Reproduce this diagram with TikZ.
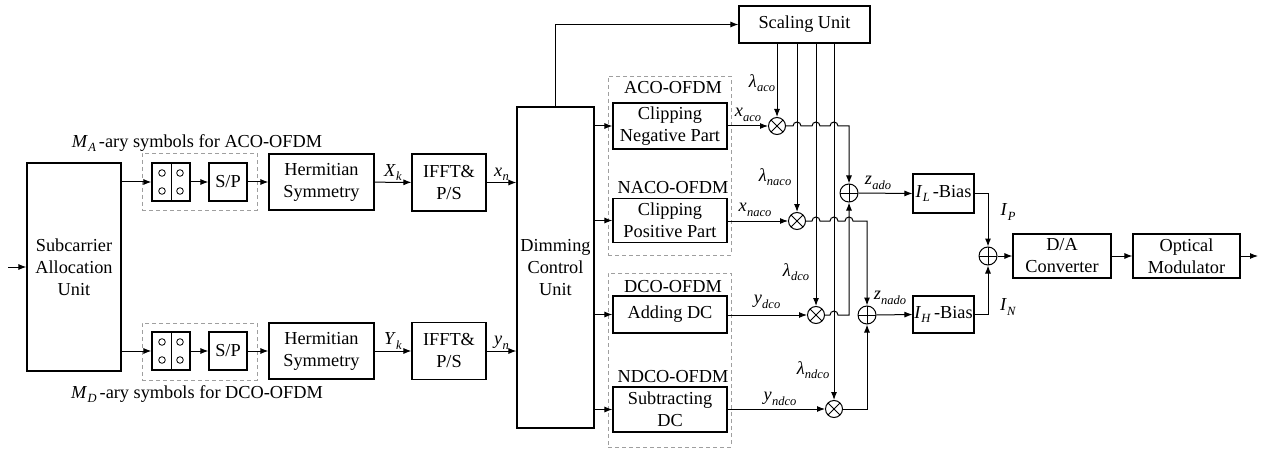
\documentclass[tikz,border=0pt]{standalone}
\usepackage{fontspec}
\setmainfont{Liberation Serif}
\newfontfamily\tnr{Liberation Serif}
\usetikzlibrary{arrows.meta,calc}
\newcommand\sbs[2]{\textit{#1}\kern0.3pt\raisebox{-0.55ex}{\fontsize{12.5}{12.5}\selectfont\textit{#2}}}
\begin{document}
\begin{tikzpicture}[x=1pt,y=-1pt,font=\tnr\fontsize{18.3}{22}\selectfont,line width=1pt,
  blk/.style={draw,line width=1.1pt,align=center,inner sep=0pt},
  dbox/.style={draw=gray!75,dash pattern=on 4pt off 3pt,line width=0.9pt},
  arr/.style={-{Latex[length=8pt,width=6pt]},line width=1pt},
  lbl/.style={inner sep=0pt},
  mul/.style={circle,draw,line width=1pt,minimum size=17pt,inner sep=0pt,
    path picture={\draw[line width=0.9pt] (path picture bounding box.north west)--(path picture bounding box.south east)
      (path picture bounding box.north east)--(path picture bounding box.south west);}},
  add/.style={circle,draw,line width=1pt,minimum size=18pt,inner sep=0pt,
    path picture={\draw[line width=0.9pt] (path picture bounding box.west)--(path picture bounding box.east)
      (path picture bounding box.north)--(path picture bounding box.south);}},
  cons/.style={blk,minimum width=38pt,minimum height=38pt,
    path picture={\draw[line width=1pt] (path picture bounding box.north)--(path picture bounding box.south);
      \foreach \dx in {-9,9}{\foreach \dy in {-9,9}{\draw[line width=0.8pt] ($(path picture bounding box.center)+(\dx,\dy)$) circle (3.3pt);}}}}
]
\useasboundingbox (0,0) rectangle (1265,449);

% dashed group boxes
\node[dbox,minimum width=115pt,minimum height=57pt] (dA) at (199.5,181.5) {};
\node[dbox,minimum width=115pt,minimum height=57pt] (dB) at (199.5,351.5) {};
\node[dbox,minimum width=123pt,minimum height=179pt] (dC) at (669.5,165.5) {};
\node[dbox,minimum width=123pt,minimum height=174pt] (dD) at (669.5,360) {};

% blocks
\node[blk,minimum width=94pt,minimum height=208pt] (sau) at (74,267) {Subcarrier\\Allocation\\Unit};
\node[cons] (cA) at (171,182) {};
\node[blk,minimum width=38pt,minimum height=38pt] (spA) at (228,182) {S/P};
\node[blk,minimum width=105pt,minimum height=56pt] (hA) at (321.5,182) {Hermitian\\Symmetry};
\node[blk,minimum width=74pt,minimum height=57pt] (iA) at (449,182.5) {IFFT\&\\P/S};
\node[cons] (cB) at (171,351) {};
\node[blk,minimum width=38pt,minimum height=38pt] (spB) at (228,351) {S/P};
\node[blk,minimum width=105pt,minimum height=56pt] (hB) at (321.5,351) {Hermitian\\Symmetry};
\node[blk,minimum width=74pt,minimum height=57pt] (iB) at (449,351) {IFFT\&\\P/S};
\node[blk,minimum width=77pt,minimum height=321pt] (dcu) at (555.5,267.5) {Dimming\\Control\\Unit};
\node[blk,minimum width=131pt,minimum height=37pt] (su) at (804.5,24.5) {Scaling Unit};
\node[blk,minimum width=114pt,minimum height=46pt] (cn) at (670,126) {Clipping\\Negative Part};
\node[blk,minimum width=114pt,minimum height=44pt] (cp) at (670,220.5) {Clipping\\Positive Part};
\node[blk,minimum width=114pt,minimum height=37pt] (ad) at (670,314.5) {Adding DC};
\node[blk,minimum width=114pt,minimum height=45pt] (sd) at (670,409.5) {Subtracting\\DC};
\node[blk,minimum width=61pt,minimum height=39pt] (bL) at (943.5,193.5) {\sbs{I}{L}\,-Bias};
\node[blk,minimum width=61pt,minimum height=37pt] (bH) at (943.5,314.5) {\sbs{I}{H}\,-Bias};
\node[blk,minimum width=98pt,minimum height=44pt] (da) at (1062,256) {D/A\\Converter};
\node[blk,minimum width=107pt,minimum height=44pt] (om) at (1186.5,256) {Optical\\Modulator};

% multipliers and adders
\node[mul] (m1) at (777,126) {};
\node[mul] (m2) at (797,221) {};
\node[mul] (m3) at (816,315) {};
\node[mul] (m4) at (834,409) {};
\node[add] (a1) at (849,193) {};
\node[add] (a2) at (867,315) {};
\node[add] (a3) at (988,256) {};

% coordinates
\coordinate (in) at (8,267);
\coordinate (out) at (1258,256);
\coordinate (s1) at (777,43);
\coordinate (s2) at (797,43);
\coordinate (s3) at (816,43);
\coordinate (s4) at (834,43);

% group labels
\node[lbl] (gA) at (673,88) {ACO-OFDM};
\node[lbl] (gB) at (673,188) {NACO-OFDM};
\node[lbl] (gC) at (673,287) {DCO-OFDM};
\node[lbl] (gD) at (673,377) {NDCO-OFDM};
\node[lbl] (tA) at (197,143) {\sbs{M}{A}\,-ary symbols for ACO-OFDM};
\node[lbl] (tB) at (197,394) {\sbs{M}{D}\,-ary symbols for DCO-OFDM};

% left chain
\draw[arr] (in) -- (sau.west);
\draw[arr] (sau.east |- cA) -- (cA.west);
\draw[arr] (cA) -- (spA);
\draw[arr] (spA) -- (hA);
\draw[arr] (hA) -- node[above=1pt,lbl] {\sbs{X}{k}} (iA);
\draw[arr] (iA) -- node[above=1pt,lbl] {\sbs{x}{n}} (iA -| dcu.west);
\draw[arr] (sau.east |- cB) -- (cB.west);
\draw[arr] (cB) -- (spB);
\draw[arr] (spB) -- (hB);
\draw[arr] (hB) -- node[above=1pt,lbl] {\sbs{Y}{k}} (iB);
\draw[arr] (iB) -- node[above=1pt,lbl] {\sbs{y}{n}} (iB -| dcu.west);

% dimming control outputs
\draw[arr] (dcu.north) |- (su.west);
\draw[arr] (dcu.east |- cn) -- (cn.west);
\draw[arr] (dcu.east |- cp) -- (cp.west);
\draw[arr] (dcu.east |- ad) -- (ad.west);
\draw[arr] (dcu.east |- sd) -- (sd.west);

% branches into multipliers
\draw[arr] (cn.east) -- (m1.west);
\draw[arr] (cp.east |- m2) -- (m2.west);
\draw[arr] (ad.east |- m3) -- (m3.west);
\draw[arr] (sd.east |- m4) -- (m4.west);
\node[lbl] (lxa) at (748,115) {\sbs{x}{aco}};
\node[lbl] (lxn) at (755,210) {\sbs{x}{naco}};
\node[lbl] (lyd) at (767,302) {\sbs{y}{dco}};
\node[lbl] (lyn) at (780,399) {\sbs{y}{ndco}};

% scaling factors
\draw[arr] (s1) -- (m1.north);
\draw[arr] (s2) -- (m2.north);
\draw[arr] (s3) -- (m3.north);
\draw[arr] (s4) -- (m4.north);
\node[lbl] (la1) at (762,83) {\sbs{λ}{aco}};
\node[lbl] (la2) at (775,177) {\sbs{λ}{naco}};
\node[lbl] (la3) at (796,272) {\sbs{λ}{dco}};
\node[lbl] (la4) at (813,370) {\sbs{λ}{ndco}};

% multiplier outputs with hops
\draw[arr] (m1.east) -- ($(s2|-m1)+(-4,0)$) arc[start angle=180,end angle=0,radius=4pt]
  -- ($(s3|-m1)+(-4,0)$) arc[start angle=180,end angle=0,radius=4pt]
  -- ($(s4|-m1)+(-4,0)$) arc[start angle=180,end angle=0,radius=4pt]
  -- (a1 |- m1) -- (a1.north);
\draw[arr] (m2.east) -- ($(s3|-m2)+(-4,0)$) arc[start angle=180,end angle=0,radius=4pt]
  -- ($(s4|-m2)+(-4,0)$) arc[start angle=180,end angle=0,radius=4pt]
  -- ($(a1|-m2)+(-4,0)$) arc[start angle=180,end angle=0,radius=4pt]
  -- (a2 |- m2) -- (a2.north);
\draw[arr] (m3.east) -- ($(s4|-m3)+(-4,0)$) arc[start angle=180,end angle=0,radius=4pt]
  -- (a1 |- m3) -- (a1.south);
\draw[arr] (m4.east) -- (a2 |- m4) -- (a2.south);

% adders to bias
\draw[arr] (a1.east) -- (bL.west);
\draw[arr] (a2.east) -- (bH.west);
\node[lbl] (lz1) at (878,183) {\sbs{z}{ado}};
\node[lbl] (lz2) at (890,298) {\sbs{z}{nado}};
\draw[arr] (bL.east) -| (a3.north);
\draw[arr] (bH.east) -| (a3.south);
\node[lbl] (lip) at (1008,212) {\sbs{I}{P}};
\node[lbl] (lin) at (1008,307) {\sbs{I}{N}};
\draw[arr] (a3.east) -- (da.west);
\draw[arr] (da.east) -- (om.west);
\draw[arr] (om.east) -- (out);
\end{tikzpicture}
\end{document}
